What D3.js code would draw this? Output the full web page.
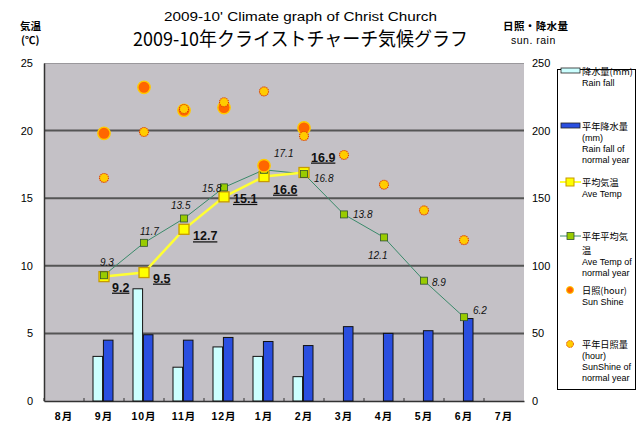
<!DOCTYPE html>
<html><head><meta charset="utf-8">
<script src="https://cdn.jsdelivr.net/npm/d3@7"></script>
<style>
html,body{margin:0;padding:0;background:#fff;}
svg{display:block;}
text{font-family:"Liberation Sans","Noto Sans CJK JP",sans-serif;}
.jp{font-family:"Noto Sans CJK JP","Liberation Sans",sans-serif;}
</style></head>
<body>
<svg id="c" width="640" height="432"></svg>
<script>
// ---- data ----
const months = ["8月","9月","10月","11月","12月","1月","2月","3月","4月","5月","6月","7月"];
const rainFall = [null,33,83,25,40,33,18,null,null,null,null,null];
const rainNormal = [null,45,49,45,47,44,41,55,50,52,61,null];
const aveTemp = [null,9.2,9.5,12.7,15.1,16.6,16.9,null,null,null,null,null];
const aveTempNormal = [null,9.3,11.7,13.5,15.8,17.1,16.8,13.8,12.1,8.9,6.2,null];
const sunShine = [null,198,232,215,217,174,202,null,null,null,null,null];
const sunShineNormal = [null,165,199,216,221,229,196,182,160,141,119,null];
const leftTicks = [0,5,10,15,20,25];
const rightTicks = [0,50,100,150,200,250];
// label offsets (style)
const aveOff = [null,[8,15],[9,10],[9,11],[9,6],[9,17],[7,-11]];
const normOff = [null,[-4,-9],[-4,-8],[-13,-9],[-22,5],[10,-13],[10,8],[9,4],[-16,22],[8,5],[9,-3]];

const svg = d3.select("#c");
const L=44,R=524,T=63,B=401;
const x = d3.scaleBand().domain(months).range([L,R]);
const cx = m => x(m)+x.bandwidth()/2;
const yL = d3.scaleLinear().domain([0,25]).range([B,T]);
const yR = d3.scaleLinear().domain([0,250]).range([B,T]);
const sub = d3.scaleBand().domain(["rain","normal"]).range([-11,9]).paddingInner(0.08);

// plot background
svg.append("rect").attr("x",L).attr("y",T).attr("width",R-L).attr("height",B-T).attr("fill","#c4c1c6");
svg.append("line").attr("x1",L).attr("x2",R).attr("y1",T+0.5).attr("y2",T+0.5).attr("stroke","#9a989c").attr("stroke-width",1);
// grid
svg.append("g").selectAll("line").data(leftTicks.filter(t=>t>0&&t<25)).join("line")
  .attr("x1",L).attr("x2",R).attr("y1",d=>yL(d)).attr("y2",d=>yL(d))
  .attr("stroke","#555").attr("stroke-width",2);

// axes
const axL = svg.append("g").attr("transform",`translate(${L},0)`)
  .call(d3.axisLeft(yL).tickValues(leftTicks).tickSize(0).tickPadding(11));
axL.select(".domain").attr("stroke","#333").attr("stroke-width",1.5);
axL.selectAll("text").attr("font-size",11).attr("fill","#000").attr("font-family","Liberation Sans");
const axR = svg.append("g").attr("transform",`translate(${R},0)`)
  .call(d3.axisRight(yR).tickValues(rightTicks).tickSize(0).tickPadding(8));
axR.select(".domain").remove();
axR.selectAll("text").attr("font-size",11).attr("fill","#000").attr("font-family","Liberation Sans");
const axB = svg.append("g").attr("transform",`translate(0,${B})`)
  .call(d3.axisBottom(x).tickSize(0).tickPadding(12));
axB.select(".domain").attr("stroke","#333").attr("stroke-width",1.5);
axB.selectAll("text").attr("font-size",10.5).attr("font-weight","bold").attr("fill","#000")
  .attr("font-family","Noto Sans CJK JP").attr("letter-spacing","1");
svg.append("g").selectAll("line").data(months).join("line")
  .attr("x1",d=>x(d)).attr("x2",d=>x(d)).attr("y1",B-3).attr("y2",B).attr("stroke","#333");

// bars
const idx = months.map((m,i)=>i);
svg.append("g").selectAll("rect").data(idx.filter(i=>rainFall[i]!=null)).join("rect")
  .attr("x",i=>cx(months[i])+sub("rain")).attr("width",sub.bandwidth())
  .attr("y",i=>yR(rainFall[i])).attr("height",i=>B-yR(rainFall[i]))
  .attr("fill","#ccffff").attr("stroke","#111").attr("stroke-width",1);
svg.append("g").selectAll("rect").data(idx.filter(i=>rainNormal[i]!=null)).join("rect")
  .attr("x",i=>cx(months[i])+sub("normal")).attr("width",sub.bandwidth())
  .attr("y",i=>yR(rainNormal[i])).attr("height",i=>B-yR(rainNormal[i]))
  .attr("fill","#2a4fe0").attr("stroke","#111").attr("stroke-width",1);

// lines
const nIdx = idx.filter(i=>aveTempNormal[i]!=null);
const aIdx = idx.filter(i=>aveTemp[i]!=null);
svg.append("path").attr("d",d3.line().x(i=>cx(months[i])).y(i=>yL(aveTempNormal[i]))(nIdx))
  .attr("fill","none").attr("stroke","#3a8a6a").attr("stroke-width",1);
svg.append("path").attr("d",d3.line().x(i=>cx(months[i])).y(i=>yL(aveTemp[i]))(aIdx))
  .attr("fill","none").attr("stroke","#ffff33").attr("stroke-width",2.5);
svg.append("g").selectAll("rect").data(aIdx).join("rect")
  .attr("x",i=>cx(months[i])-5).attr("y",i=>yL(aveTemp[i])-5).attr("width",10).attr("height",10)
  .attr("fill","#ffff00").attr("stroke","#c89a00").attr("stroke-width",1.3);
svg.append("g").selectAll("rect").data(nIdx).join("rect")
  .attr("x",i=>cx(months[i])-3.5).attr("y",i=>yL(aveTempNormal[i])-3.5).attr("width",7).attr("height",7)
  .attr("fill","#99cc00").attr("stroke","#2f5030").attr("stroke-width",0.8);

// sunshine
const sIdx = idx.filter(i=>sunShine[i]!=null);
const snIdx = idx.filter(i=>sunShineNormal[i]!=null);
svg.append("g").selectAll("circle").data(sIdx).join("circle")
  .attr("cx",i=>cx(months[i])).attr("cy",i=>yR(sunShine[i])).attr("r",6.2)
  .attr("fill","#ff6600").attr("stroke","#ffcc00").attr("stroke-width",1.4);
svg.append("g").selectAll("circle").data(snIdx).join("circle")
  .attr("cx",i=>cx(months[i])).attr("cy",i=>yR(sunShineNormal[i])).attr("r",4.5)
  .attr("fill","#ffcc00").attr("stroke","#e04000").attr("stroke-width",1.1).attr("stroke-dasharray","1.3,0.8");

// labels
svg.append("g").selectAll("text").data(nIdx).join("text")
  .attr("x",i=>cx(months[i])+normOff[i][0]).attr("y",i=>yL(aveTempNormal[i])+normOff[i][1])
  .attr("font-size",10).attr("font-style","italic").attr("fill","#111")
  .text(i=>aveTempNormal[i].toFixed(1));
svg.append("g").selectAll("text").data(aIdx).join("text")
  .attr("x",i=>cx(months[i])+aveOff[i][0]).attr("y",i=>yL(aveTemp[i])+aveOff[i][1])
  .attr("font-size",12.5).attr("font-weight","bold").attr("text-decoration","underline").attr("fill","#111")
  .text(i=>aveTemp[i].toFixed(1));

// titles
svg.append("text").attr("x",164).attr("y",21).attr("font-size",12).attr("textLength",273)
  .attr("lengthAdjust","spacingAndGlyphs").text("2009-10' Climate graph of Christ Church");
svg.append("text").attr("class","jp").attr("x",133).attr("y",46).attr("font-size",19).attr("textLength",335)
  .attr("lengthAdjust","spacingAndGlyphs").text("2009-10年クライストチャーチ気候グラフ");
svg.append("text").attr("class","jp").attr("x",20).attr("y",30).attr("font-size",10.5).attr("font-weight","bold").text("気温");
svg.append("text").attr("class","jp").attr("x",21).attr("y",44).attr("font-size",10.5).attr("font-weight","bold").text("(℃)");
svg.append("text").attr("class","jp").attr("x",503).attr("y",30).attr("font-size",10.5).attr("font-weight","bold").attr("textLength",65).text("日照・降水量");
svg.append("text").attr("x",511).attr("y",44).attr("font-size",10.5).attr("letter-spacing","0.5").text("sun. rain");

// legend
const lg = svg.append("g");
lg.append("rect").attr("x",557.5).attr("y",69.5).attr("width",78).attr("height",320).attr("fill","#fff").attr("stroke","#000");
const legendItems = [
  {type:"bar", fill:"#ccffff", y:71, lines:["降水量(mm)","Rain fall"]},
  {type:"bar", fill:"#2a4fe0", y:126, lines:["平年降水量","(mm)","Rain fall of","normal year"]},
  {type:"ave", y:182, lines:["平均気温","Ave Temp"]},
  {type:"norm", y:236, lines:["平年平均気","温","Ave Temp of","normal year"]},
  {type:"sun", y:290, lines:["日照(hour)","Sun Shine"]},
  {type:"sunN", y:344, lines:["平年日照量","(hour)","SunShine of","normal year"]}
];
const isJP = t => /[^\x00-\x7f]/.test(t);
legendItems.forEach(it=>{
  const g = lg.append("g");
  const my = it.y;
  if(it.type==="bar"){
    g.append("rect").attr("x",561).attr("y",my-3).attr("width",19).attr("height",5).attr("fill",it.fill).attr("stroke","#222").attr("stroke-width",0.8);
  } else if(it.type==="ave"){
    g.append("line").attr("x1",560).attr("x2",581).attr("y1",my).attr("y2",my).attr("stroke","#ffff33").attr("stroke-width",2);
    g.append("rect").attr("x",566).attr("y",my-4).attr("width",8).attr("height",8).attr("fill","#ffff00").attr("stroke","#c89a00");
  } else if(it.type==="norm"){
    g.append("line").attr("x1",560).attr("x2",581).attr("y1",my).attr("y2",my).attr("stroke","#3a8a6a").attr("stroke-width",1);
    g.append("rect").attr("x",567).attr("y",my-3.5).attr("width",7).attr("height",7).attr("fill","#99cc00").attr("stroke","#2f5030").attr("stroke-width",0.8);
  } else if(it.type==="sun"){
    g.append("circle").attr("cx",570).attr("cy",my).attr("r",3.5).attr("fill","#ff6600").attr("stroke","#ffcc00");
  } else {
    g.append("circle").attr("cx",570).attr("cy",my).attr("r",3.5).attr("fill","#ffcc00").attr("stroke","#e04000").attr("stroke-dasharray","1,0.7");
  }
  let yy = my + 4;
  it.lines.forEach((t,k)=>{
    if(k>0) yy += (isJP(t) && isJP(it.lines[k-1])) ? 13.5 : 11;
    g.append("text").attr("class", isJP(t)?"jp":null)
      .attr("x",582).attr("y",yy)
      .attr("font-size", isJP(t)?9.2:9).attr("fill","#000").text(t);
  });
});
</script>
</body></html>
